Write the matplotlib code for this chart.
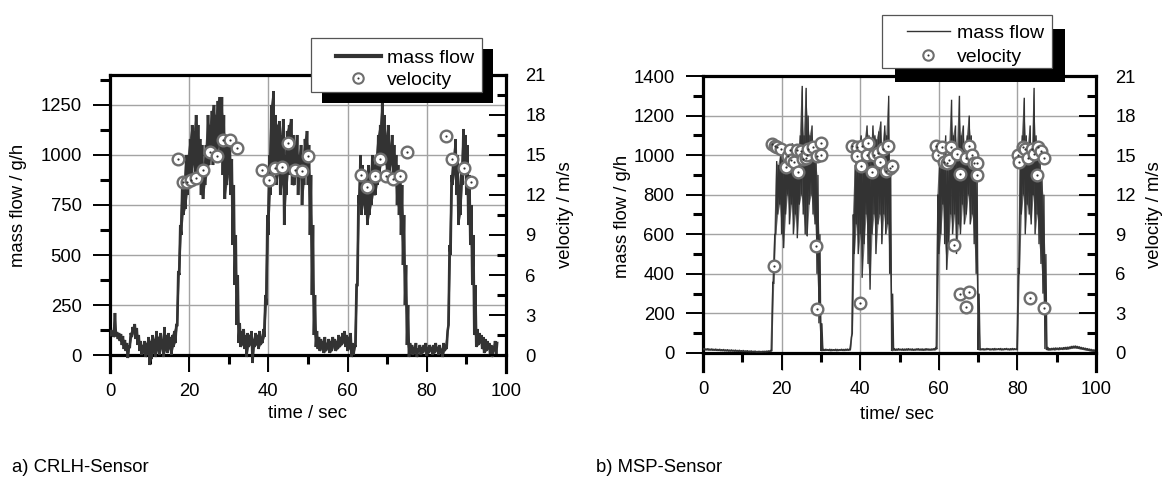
import numpy as np
import matplotlib
matplotlib.use("Agg")
import matplotlib.pyplot as plt
from matplotlib.patches import Rectangle
from matplotlib.lines import Line2D
from matplotlib.legend_handler import HandlerTuple

plt.rcParams['font.family'] = ['Liberation Sans', 'DejaVu Sans']

# ---------------- data ----------------
SAMPLE_DT = 0.5  # s between envelope samples

# panel a) CRLH sensor: mass-flow envelope (g/h) every 0.5 s, t = 0 ... 97.5 s
flow_a_low = [100, 95, 90, 95, 80, 70, 50, 30, 20, -15,
              40, 90, 110, 80, 50, 20, 0, 10, -10, 0,
              -50, -20, 10, -10, 20, 0, 30, -10, 20, 10,
              30, 0, 40, 60,
              150, 400, 600, 700, 730, 800, 850, 900, 950, 850,
              900, 870, 800, 780, 850, 900, 950, 1000, 950, 1000,
              1000, 1050, 1000, 900, 780, 850, 900, 800, 550, 350, 150,
              60, 40, 50, 30, -10, 40, 50, -40, 40, 50, 30, 50, 60,
              90, 250, 600, 800, 900, 950, 850, 900, 800, 850,
              650, 800, 900, 950, 850, 850, 900, 800, 900, 750,
              850, 950, 850, 600, 300, 100,
              40, 30, 20, 30, 10, 20, 30, 10, 20, 40,
              20, 30, 40, 50, 60, 40, 20, 30, -10, 0,
              40, 350, 750, 700, 750, 700, 650, 700, 750, 800,
              800, 850, 900, 950, 1000, 950, 900, 900, 950, 900,
              850, 750, 700, 600, 450, 250, 50,
              -10, 10, 0, 10, -10, 20, 0, 10, 20, -5,
              10, 20, 0, 10, 20, 0, 10, -10, 20,
              30, 150, 500, 850, 900, 800, 650, 700, 850, 950,
              800, 650, 550, 350, 100,
              40, 50, 60, 30, 10, 20, 30, 0, -10, 20, 0]
flow_a_high = [125, 120, 210, 115, 110, 105, 95, 75, 60, 40,
               110, 140, 155, 135, 100, 70, 50, 70, 60, 90,
               70, 100, 80, 120, 90, 110, 80, 140, 100, 110,
               90, 100, 120, 150,
               420, 650, 850, 880, 1000, 1000, 1080, 1150, 1120, 1200,
               1150, 1080, 1050, 950, 1050, 1200, 1150, 1220, 1250, 1200,
               1270, 1290, 1290, 1200, 1100, 1080, 1050, 980, 850, 600, 400,
               160, 120, 130, 100, 110, 100, 120, 80, 110, 100, 120, 90, 130,
               300, 700, 1000, 1250, 1320, 1200, 1150, 1170, 1100, 1180,
               1000, 1120, 1150, 1180, 1100, 1050, 1100, 1000, 1050, 980,
               1080, 1120, 1050, 900, 650, 300,
               120, 90, 80, 70, 90, 60, 80, 70, 90, 80,
               70, 100, 90, 110, 120, 100, 90, 110, 60, 50,
               350, 800, 1000, 950, 900, 880, 950, 900, 1000, 950,
               1000, 1100, 1150, 1260, 1200, 1100, 1150, 1050, 1100, 1050,
               1000, 950, 920, 850, 700, 450, 250,
               60, 50, 40, 60, 30, 50, 40, 50, 60, 40,
               50, 40, 50, 60, 40, 50, 30, 60, 50,
               120, 550, 900, 1000, 1080, 1000, 850, 950, 1130, 1100,
               1050, 900, 750, 600, 350,
               130, 110, 100, 90, 80, 70, 60, 50, 40, 70, 60]

# panel a) velocity points (s, m/s)
vel_a_time = [17.1, 18.4, 19.4, 20.5, 21.8, 23.6, 25.2, 27.1, 28.6, 30.3, 32.0,
              38.5, 40.2, 41.7, 43.5, 45.0, 46.7, 48.5, 50.1,
              63.3, 64.9, 66.8, 68.3, 69.8, 71.4, 73.3, 75.0,
              84.8, 86.4, 89.5, 91.1]
vel_a = [14.7, 12.95, 13.0, 13.1, 13.3, 13.9, 15.2, 14.95, 16.1, 16.1, 15.55,
         13.9, 13.1, 14.05, 14.1, 15.9, 13.9, 13.8, 14.9,
         13.5, 12.6, 13.4, 14.7, 13.4, 13.2, 13.4, 15.2,
         16.4, 14.7, 14.0, 13.0]

# panel b) MSP sensor: mass-flow envelope (g/h) every 0.5 s, t = 0 ... 99.5 s
flow_b_low = [16, 15, 15, 14, 14, 13, 13, 12, 12, 11,
              11, 10, 10, 9, 9, 9, 8, 8, 7, 7,
              6, 6, 5, 5, 4, 4, 4, 3, 3, 3,
              3, 4, 4, 5, 6,
              10, 350, 600, 700, 750, 600, 530, 700, 800, 650,
              750, 600, 700, 580, 750, 800, 700, 600, 590, 750,
              800, 700, 650, 400, 150, 10,
              12, 12, 13, 12, 11, 12, 12, 11, 12, 13, 12, 12, 13, 13,
              15, 100, 500,
              650, 500, 600, 380, 550, 700, 450, 320, 600, 700,
              500, 650, 700, 550, 700, 600, 650, 400,
              10,
              14, 13, 14, 15, 14, 13, 14, 14, 15, 14,
              13, 14, 15, 14, 14, 13, 14, 15, 14, 14, 15,
              15, 20, 500,
              600, 750, 550, 420, 550, 700, 600, 700, 500, 650,
              600, 750, 650, 700, 800, 650, 700, 550, 400,
              15,
              15, 16, 15, 16, 17, 15, 16, 15, 16, 17,
              16, 15, 16, 17, 16, 15, 16, 16, 17,
              15, 400,
              700, 800, 600, 750, 700, 650, 800, 600, 700, 550, 450, 300,
              20,
              15, 14, 15, 16, 15, 17, 16, 18, 17, 19,
              18, 20, 22, 24, 25, 24, 22, 20, 18, 16,
              14, 12, 10, 8, 6]
flow_b_high = [24, 22, 23, 21, 22, 20, 21, 19, 20, 18,
               19, 17, 18, 16, 17, 15, 16, 14, 15, 13,
               14, 12, 13, 11, 12, 10, 11, 9, 10, 9,
               10, 10, 11, 12, 14,
               360, 600, 970, 950, 1000, 1050, 980, 1000, 1050, 1020,
               1060, 1000, 1050, 1000, 1100, 1350, 1100, 1340, 1200, 1100,
               1150, 1050, 1000, 900, 600, 150,
               19, 20, 18, 20, 19, 18, 20, 19, 18, 20, 19, 20, 21, 20,
               80, 700, 950,
               1000, 1050, 1100, 1000, 1080, 1150, 1100, 1000, 1150, 1100,
               1080, 1120, 1170, 1050, 1150, 1100, 1300, 950,
               300,
               22, 21, 23, 20, 22, 21, 22, 23, 21, 22,
               20, 22, 23, 21, 22, 21, 23, 22, 21, 22, 23,
               30, 800, 1000,
               1050, 1000, 1100, 950, 1050, 1280, 1100, 1150, 1050, 1300,
               1100, 1150, 1050, 1100, 1200, 1100, 1050, 1000, 900,
               300,
               22, 23, 22, 24, 23, 22, 23, 24, 22, 23,
               24, 22, 23, 24, 22, 23, 24, 23, 22,
               430, 1000,
               1100, 1290, 1100, 1050, 1150, 1000, 1340, 1100, 1050, 1000, 900, 800,
               500,
               30, 24, 25, 26, 27, 26, 28, 27, 29, 30,
               31, 32, 35, 36, 37, 35, 33, 30, 28, 26,
               24, 22, 20, 18, 16]

# panel b) velocity points (s, m/s)
vel_b_time = [17.6, 18.2, 18.9, 19.9, 21.1, 21.7, 22.1, 22.5, 23.1, 23.8, 24.2,
              25.0, 25.5, 26.2, 26.4, 26.8, 27.9, 28.9, 29.9, 30.0,
              18.1, 28.7, 29.0,
              37.9, 39.1, 39.1, 40.2, 40.4, 41.7, 42.1, 43.1, 43.4, 44.6,
              45.1, 45.8, 46.6, 47.2, 47.6, 48.1, 40.0,
              59.3, 59.8, 60.8, 61.4, 62.2, 62.6, 63.1, 64.6, 65.5, 67.0,
              67.7, 68.4, 68.9, 69.6, 69.8, 63.8, 65.5, 66.8, 67.7,
              80.1, 80.5, 81.3, 82.0, 82.7, 83.7, 84.3, 84.9, 85.3, 86.1,
              86.8, 83.2, 86.7]
vel_b = [15.85, 15.7, 15.6, 15.5, 14.1, 14.9, 15.4, 14.6, 14.5, 15.4, 13.7,
         15.3, 14.7, 14.8, 15.0, 15.5, 15.6, 14.9, 15.9, 15.0,
         6.6, 8.1, 3.3,
         15.7, 15.6, 14.9, 14.2, 15.7, 15.0, 15.9, 13.75, 15.0, 15.2,
         14.5, 15.5, 13.8, 15.7, 14.0, 14.2, 3.8,
         15.7, 15.0, 15.65, 14.5, 14.4, 14.6, 15.65, 15.1, 13.6, 14.8,
         15.7, 15.0, 14.4, 13.5, 14.4, 8.15, 4.47, 3.48, 4.6,
         15.0, 14.5, 15.65, 15.5, 14.8, 15.5, 15.1, 13.5, 15.65, 15.3,
         14.8, 4.2, 3.4]

flow_label = "mass flow / g/h"
vel_label = "velocity / m/s"
legend_labels = ["mass flow", "velocity"]
captions = ["a) CRLH-Sensor", "b) MSP-Sensor"]
xlabels = ["time / sec", "time/ sec"]

# ---------------- layout ----------------
W, H = 1169, 486
fig = plt.figure(figsize=(W / 100, H / 100), dpi=100)

LINE_C = '#333333'
CIRC_EDGE = '#6e6e6e'
GRID_C = '#a3a3a3'
FS = 13.3


def fig_rect(x0, y0, x1, y1):
    return (x0 / W, 1 - y1 / H, (x1 - x0) / W, (y1 - y0) / H)


def envelope_series(low, high, dt):
    low = np.asarray(low, float)
    high = np.asarray(high, float)
    t = np.arange(2 * len(low)) * dt / 2.0
    v = np.empty(2 * len(low))
    v[0::2] = low
    v[1::2] = high
    return t, v


def make_panel(px, low, high, vtime, vel, ymaj, ymin_step, ybottom, lw,
               fill_alpha, ylab_pos, yrlab_pos, xlab_pos, xlab):
    ax = fig.add_axes(fig_rect(*px))
    ax2 = ax.twinx()
    t, v = envelope_series(low, high, SAMPLE_DT)
    ts = np.arange(len(low)) * SAMPLE_DT
    ax.fill_between(ts, low, high, color=LINE_C, alpha=fill_alpha, lw=0,
                    zorder=2)
    ax.plot(t, v, color=LINE_C, lw=lw, solid_joinstyle='miter', zorder=3)
    ax.set_xlim(0, 100)
    ax.set_ylim(ybottom, 1400)
    ax2.set_ylim(ybottom * 0.015, 21)
    ax.set_xticks(np.arange(0, 101, 20))
    ax.set_xticks(np.arange(10, 100, 20), minor=True)
    ax.set_yticks(ymaj)
    ax.set_yticks(np.arange(ymin_step, 1400, 2 * ymin_step), minor=True)
    ax2.set_yticks(np.arange(0, 22, 3))
    ax2.set_yticks(np.arange(1.5, 21, 3), minor=True)
    ax.grid(True, which='major', color=GRID_C, lw=1.0, zorder=0)
    ax.set_axisbelow(True)

    for s in ['left', 'top', 'bottom']:
        ax.spines[s].set_linewidth(2.3)
    ax.spines['right'].set_visible(False)
    ax.spines['bottom'].set_position(('data', 0))
    for s in ['left', 'top', 'bottom']:
        ax2.spines[s].set_visible(False)
    ax2.spines['right'].set_linewidth(2.3)

    ax.tick_params(axis='both', which='major', direction='out', length=12.5,
                   width=1.4, pad=8, labelsize=FS, color='black')
    ax.tick_params(axis='both', which='minor', direction='out', length=6.5,
                   width=2.2, color='black')
    ax.tick_params(axis='y', which='minor', length=7.2)
    ax2.tick_params(axis='y', which='major', direction='in', length=12.5,
                    width=1.4, pad=14, labelsize=FS)
    ax2.tick_params(axis='y', which='minor', direction='in', length=6.5,
                    width=2.2)

    ax2.plot(vtime, vel, linestyle='none', marker='o', ms=8.4, mfc='white',
             mec=CIRC_EDGE, mew=1.7, zorder=4)
    ax2.plot(vtime, vel, linestyle='none', marker='o', ms=1.6, mfc=LINE_C,
             mec=LINE_C, mew=0, zorder=5)

    ax.set_ylabel(flow_label, fontsize=FS, va='center')
    ax.yaxis.set_label_coords(*ylab_pos)
    ax2.set_ylabel(vel_label, fontsize=FS, va='center')
    ax2.yaxis.set_label_coords(*yrlab_pos)
    ax.set_xlabel(xlab, fontsize=FS, va='center')
    ax.xaxis.set_label_coords(*xlab_pos)
    return ax, ax2


make_panel((110, 75, 506, 372), flow_a_low, flow_a_high, vel_a_time, vel_a,
           np.arange(0, 1401, 250), 125, -85, 1.9, 0.85,
           (-0.2323, 0.5623), (1.1515, 0.5286), (0.5, -0.1414), xlabels[0])
make_panel((703, 76, 1096, 371), flow_b_low, flow_b_high, vel_b_time, vel_b,
           np.arange(0, 1401, 200), 100, -91, 1.0, 0.7,
           (-0.2061, 0.5254), (1.150, 0.529), (0.4936, -0.1458), xlabels[1])


def legend_box(box, shadow_off, handle_pos, line_lw, hl, htp, spacing):
    x0, y0, x1, y1 = box
    dx, dy = shadow_off
    fig.add_artist(Rectangle(fig_rect(x0 + dx, y0 + dy, x1 + dx, y1 + dy)[:2],
                             (x1 - x0) / W, (y1 - y0) / H,
                             transform=fig.transFigure, facecolor='black',
                             edgecolor='none', zorder=8))
    fig.add_artist(Rectangle(fig_rect(x0, y0, x1, y1)[:2],
                             (x1 - x0) / W, (y1 - y0) / H,
                             transform=fig.transFigure, facecolor='white',
                             edgecolor='#555555', lw=0.9, zorder=9))
    h_line = Line2D([], [], color=LINE_C, lw=line_lw)
    h_circ = Line2D([], [], linestyle='none', marker='o', ms=7.5, mfc='white',
                    mec=CIRC_EDGE, mew=1.5)
    h_dot = Line2D([], [], linestyle='none', marker='o', ms=1.5, mfc=LINE_C,
                   mec=LINE_C, mew=0)
    leg = fig.legend([h_line, (h_circ, h_dot)], legend_labels,
                     handler_map={tuple: HandlerTuple(ndivide=1)},
                     loc='upper left',
                     bbox_to_anchor=(handle_pos[0] / W, 1 - handle_pos[1] / H),
                     frameon=False, borderpad=0, borderaxespad=0,
                     handlelength=hl, handletextpad=htp, labelspacing=spacing,
                     fontsize=14)
    leg.set_zorder(10)


legend_box((311, 38, 482, 92), (11, 11), (336, 49), 3.0, 2.3, 0.3, 0.22)
legend_box((882, 15, 1052, 68), (13, 14), (907, 24), 1.0, 2.2, 0.35, 0.35)

fig.text(12 / W, 1 - 468 / H, captions[0], fontsize=FS, ha='left', va='center')
fig.text(596 / W, 1 - 468 / H, captions[1], fontsize=FS, ha='left', va='center')

fig.savefig('out.png', dpi=100)
